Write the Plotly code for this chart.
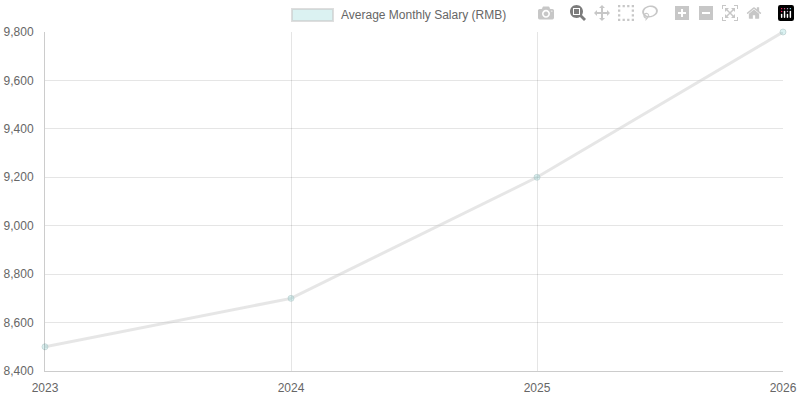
import plotly.graph_objects as go

years = ["2023", "2024", "2025", "2026"]
salary = [8500, 8700, 9200, 9800]
series_name = "Average Monthly Salary (RMB)"
y_ticks = [8400, 8600, 8800, 9000, 9200, 9400, 9600, 9800]

fig = go.Figure(go.Scatter(
    x=years, y=salary, mode="lines+markers", name=series_name,
    line=dict(color="rgba(200,200,200,0.45)", width=3),
    marker=dict(size=6, color="rgba(75,192,192,0.2)", line=dict(color="rgba(180,200,200,0.6)", width=1)),
    showlegend=False, cliponaxis=False))

W, H = 800, 400
l, r, t, b = 45, 17, 32, 29
fig.update_layout(
    width=W, height=H, margin=dict(l=l, r=r, t=t, b=b, autoexpand=False),
    paper_bgcolor="white", plot_bgcolor="white",
    font=dict(family="Liberation Sans, Arial", size=12, color="#666"),
    xaxis=dict(type="category", range=[0, 3], showgrid=True, gridcolor="rgba(0,0,0,0.1)",
               showline=True, linecolor="rgba(0,0,0,0.2)", ticks="outside", ticklen=6,
               tickcolor="rgba(0,0,0,0)", zeroline=False),
    yaxis=dict(range=[8400, 9800], tickvals=y_ticks, tickformat=",", showgrid=True,
               gridcolor="rgba(0,0,0,0.1)", showline=True, linecolor="rgba(0,0,0,0.2)",
               ticks="outside", ticklen=8, tickcolor="rgba(0,0,0,0)", zeroline=False),
)
pw = W - l - r
ph = H - t - b
def px(x): return (x - l) / pw
def py(y): return (H - b - y) / ph
fig.add_shape(type="rect", xref="paper", yref="paper", x0=px(292), x1=px(333), y0=py(21), y1=py(9),
              fillcolor="rgba(75,192,192,0.2)", line=dict(color="rgba(200,200,200,0.6)", width=2))
fig.add_annotation(xref="paper", yref="paper", x=px(339), y=py(15), text=series_name,
                   showarrow=False, xanchor="left", yanchor="middle", font=dict(size=12, color="#666"))
fig.write_html("out.html", post_script="document.body.style.margin='0';document.body.style.overflow='hidden';")
